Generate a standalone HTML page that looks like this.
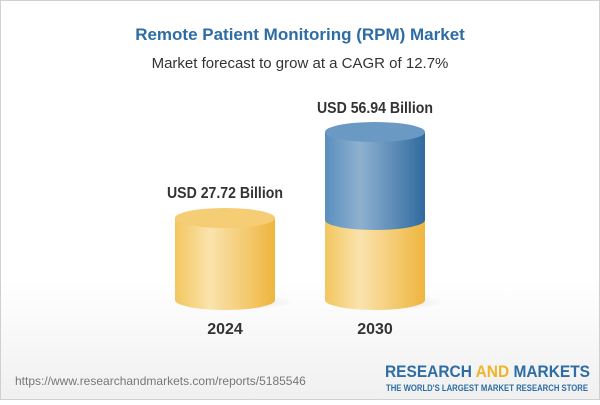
<!DOCTYPE html>
<html><head><style>
body{margin:0;width:600px;height:400px;overflow:hidden;font-family:"Liberation Sans",Arial,sans-serif}
</style></head><body>
<svg width="600" height="400" xmlns="http://www.w3.org/2000/svg">
<defs>
<linearGradient id="bg" x1="0" y1="0" x2="0" y2="1"><stop offset="0.7" stop-color="#fff"/><stop offset="1" stop-color="#f0f0f0"/></linearGradient>
<linearGradient id="yel" x1="0" x2="1"><stop offset="0" stop-color="#f3c65f"/><stop offset="0.35" stop-color="#fae3ad"/><stop offset="1" stop-color="#efb53e"/></linearGradient>
<linearGradient id="blu" x1="0" x2="1"><stop offset="0" stop-color="#5a8fbd"/><stop offset="0.35" stop-color="#8eb1cf"/><stop offset="1" stop-color="#2f6a9f"/></linearGradient>
<radialGradient id="sh"><stop offset="0" stop-color="#000" stop-opacity="0.12"/><stop offset="1" stop-color="#000" stop-opacity="0"/></radialGradient>
</defs>
<rect x="0.5" y="0.5" width="599" height="399" fill="url(#bg)" stroke="#d0d0d0"/>
<text x="300" y="40" text-anchor="middle" font-size="17" font-weight="bold" fill="#2e6da4">Remote Patient Monitoring (RPM) Market</text>
<text x="300" y="68" text-anchor="middle" font-size="15" fill="#333">Market forecast to grow at a CAGR of 12.7%</text>
<ellipse cx="235" cy="302" rx="60" ry="8" fill="url(#sh)"/>
<ellipse cx="385" cy="302" rx="60" ry="8" fill="url(#sh)"/>
<path d="M175 218 L175 300 A50 10 0 0 0 275 300 L275 218 Z" fill="url(#yel)"/>
<ellipse cx="225" cy="218" rx="50" ry="10" fill="#f5cd74"/>
<path d="M325 220 L325 300 A50 10 0 0 0 425 300 L425 220 Z" fill="url(#yel)"/>
<path d="M325 132 L325 220 A50 10 0 0 0 425 220 L425 132 Z" fill="url(#blu)"/>
<ellipse cx="375" cy="132" rx="50" ry="10" fill="#6a9ac4"/>
<text x="167" y="198" font-size="16" font-weight="bold" fill="#333" textLength="116" lengthAdjust="spacingAndGlyphs">USD 27.72 Billion</text>
<text x="317" y="113" font-size="16" font-weight="bold" fill="#333" textLength="116" lengthAdjust="spacingAndGlyphs">USD 56.94 Billion</text>
<text x="225" y="334" text-anchor="middle" font-size="16" font-weight="bold" fill="#333">2024</text>
<text x="375" y="334" text-anchor="middle" font-size="16" font-weight="bold" fill="#333">2030</text>
<text x="15" y="385" font-size="12" fill="#777">https://www.researchandmarkets.com/reports/5185546</text>
<text x="385" y="377" font-size="17" font-weight="bold" fill="#2e6da4" textLength="205" lengthAdjust="spacingAndGlyphs">RESEARCH <tspan fill="#f0b429">AND</tspan> MARKETS</text>
<text x="386" y="391" font-size="9" font-weight="bold" fill="#2e6da4" textLength="202" lengthAdjust="spacingAndGlyphs">THE WORLD'S LARGEST MARKET RESEARCH STORE</text>
</svg>
</body></html>
